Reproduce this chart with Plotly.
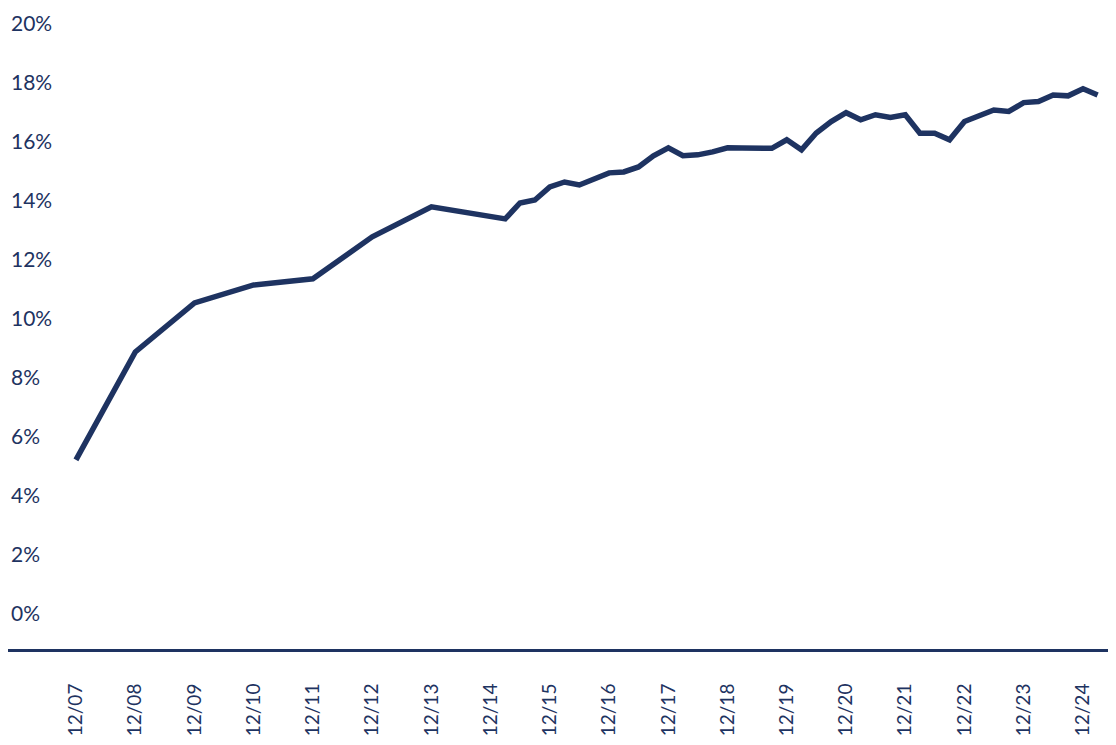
import plotly.graph_objects as go

# Data (annual to 12/14, quarterly afterwards)
dates = [
    "2007-12-31", "2008-12-31", "2009-12-31", "2010-12-31", "2011-12-31",
    "2012-12-31", "2013-12-31", "2014-12-31",
    "2015-03-31", "2015-06-30", "2015-09-30", "2015-12-31",
    "2016-03-31", "2016-06-30", "2016-09-30", "2016-12-31",
    "2017-03-31", "2017-06-30", "2017-09-30", "2017-12-31",
    "2018-03-31", "2018-06-30", "2018-09-30", "2018-12-31",
    "2019-03-31", "2019-06-30", "2019-09-30", "2019-12-31",
    "2020-03-31", "2020-06-30", "2020-09-30", "2020-12-31",
    "2021-03-31", "2021-06-30", "2021-09-30", "2021-12-31",
    "2022-03-31", "2022-06-30", "2022-09-30", "2022-12-31",
    "2023-03-31", "2023-06-30", "2023-09-30", "2023-12-31",
    "2024-03-31", "2024-06-30", "2024-09-30", "2024-12-31",
    "2025-03-31",
]
values = [
    5.22, 8.88, 10.54, 11.15, 11.36,
    12.78, 13.80, 13.47,
    13.39, 13.93, 14.03, 14.47,
    14.64, 14.54, 14.75, 14.95,
    14.98, 15.15, 15.53, 15.80,
    15.53, 15.56, 15.66, 15.80,
    15.79, 15.78, 15.78, 16.07,
    15.73, 16.30, 16.69, 16.99,
    16.75, 16.92, 16.83, 16.92,
    16.29, 16.29, 16.07, 16.69,
    16.86, 17.08, 17.03, 17.33,
    17.37, 17.59, 17.56, 17.80,
    17.59,
]

# Tick labels
tick_dates = ["%d-12-31" % y for y in range(2007, 2025)]
tick_labels = ["12/%02d" % (y % 100) for y in range(2007, 2025)]
y_ticks = list(range(0, 21, 2))
y_labels = ["%d%%" % v for v in y_ticks]

navy = "#1e3361"

fig = go.Figure()

fig.add_trace(go.Scatter(
    x=dates, y=values,
    mode="lines",
    line=dict(color=navy, width=5.5),
    hoverinfo="x+y",
))

# page body has an 8px margin, so the figure is sized to fit inside it
fig.update_layout(
    width=1100, height=737,
    margin=dict(l=0, r=0, t=2, b=96),
    paper_bgcolor="white",
    plot_bgcolor="white",
    showlegend=False,
    font=dict(family="Lato", color=navy),
    xaxis=dict(
        type="date",
        range=["2006-11-07", "2025-06-03"],
        tickmode="array",
        tickvals=tick_dates,
        ticktext=tick_labels,
        tickangle=-90,
        tickfont=dict(size=19, color=navy),
        ticklabelstandoff=24,
        showline=True, linecolor=navy, linewidth=3,
        showgrid=False, zeroline=False, ticks="",
    ),
    yaxis=dict(
        range=[-1.19, 20.47],
        tickmode="array",
        tickvals=y_ticks,
        ticktext=y_labels,
        ticklabelposition="inside",
        tickfont=dict(size=21, color=navy),
        showline=False, showgrid=False, zeroline=False, ticks="",
    ),
)

fig.write_html("out.html")
